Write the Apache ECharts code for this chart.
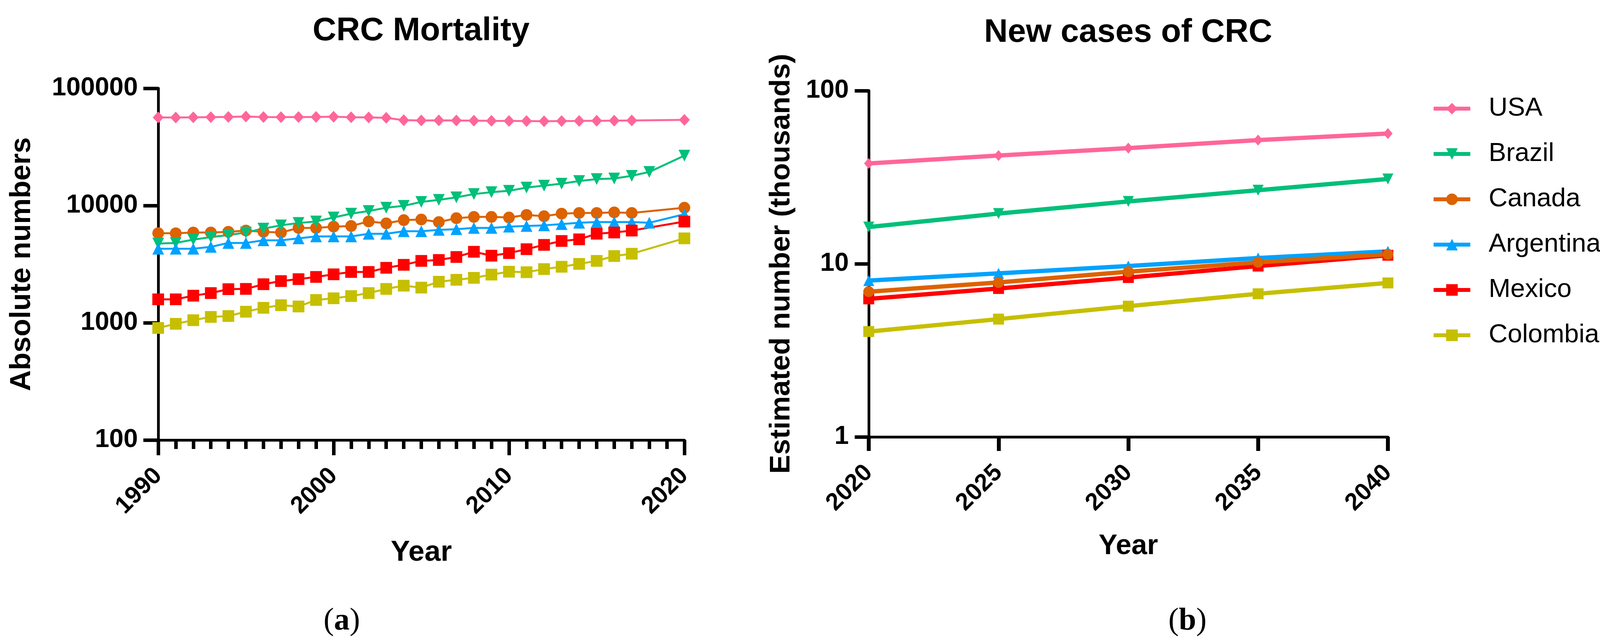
<!DOCTYPE html>
<html><head><meta charset="utf-8">
<script src="https://cdn.jsdelivr.net/npm/echarts/dist/echarts.min.js"></script>
<style>html,body{margin:0;padding:0;background:#fff}#c{width:4135px;height:1648px}</style>
</head><body><div id="c"></div>
<script>
// ---------- data ----------
const countries = ['USA', 'Brazil', 'Canada', 'Argentina', 'Mexico', 'Colombia'];
const mortYears = [1990,1991,1992,1993,1994,1995,1996,1997,1998,1999,2000,2001,2002,2003,2004,2005,2006,2007,2008,2009,2010,2011,2012,2013,2014,2015,2016,2017,2018,2020];
const mortUSA = [56400,56300,56600,56800,57000,57400,56900,56800,56900,57000,57200,56700,56500,56000,53500,53200,53300,53200,53000,52800,52700,52600,52400,52600,52700,52900,53000,53200,null,53800];
const mortBrazil = [4740,4800,5120,5380,5600,5890,6360,6780,7100,7320,7910,8530,8980,9580,9950,10740,11170,11750,12530,13010,13350,14230,14790,15370,16180,16820,17020,17920,19360,26650];
const mortCanada = [5810,5800,5890,5890,5970,6120,5970,5890,6440,6440,6610,6690,7320,7050,7510,7600,7230,7800,8000,8000,7910,8320,8110,8530,8650,8650,8750,8650,null,9580];
const mortArgentina = [4280,4280,4280,4440,4800,4800,5050,5050,5250,5450,5450,5450,5740,5740,6040,6040,6200,6280,6440,6440,6610,6690,6780,6950,7130,7230,7230,7230,7130,8430];
const mortMexico = [1585,1585,1703,1792,1935,1945,2133,2268,2356,2461,2590,2713,2713,2944,3122,3372,3433,3640,4033,3735,3930,4244,4617,4986,5150,5750,5888,6116,null,7300];
const mortColombia = [903,980,1052,1122,1142,1243,1342,1413,1377,1565,1618,1690,1792,1945,2074,1995,2239,2327,2417,2577,2727,2700,2871,3006,3179,3373,3708,3882,null,5250];

const caseYears = [2020, 2025, 2030, 2035, 2040];
const caseUSA = [38.0, 42.2, 46.6, 51.8, 56.5];
const caseBrazil = [16.3, 19.5, 22.9, 26.6, 30.9];
const caseCanada = [6.9, 7.8, 9.0, 10.2, 11.35];
const caseArgentina = [8.0, 8.8, 9.7, 10.8, 11.8];
const caseMexico = [6.27, 7.2, 8.33, 9.7, 11.2];
const caseColombia = [4.06, 4.79, 5.69, 6.71, 7.75];

const mortTicksX = [1990, 2000, 2010, 2020];
const caseTicksX = [2020, 2025, 2030, 2035, 2040];

// ---------- styling ----------
const colors = {USA:'#FF6699', Brazil:'#00BF7A', Canada:'#DD6200', Argentina:'#00A2FF', Mexico:'#FF0000', Colombia:'#C6BF00'};
const symbols = {USA:'diamond', Brazil:'triangle', Canada:'circle', Argentina:'triangle', Mexico:'rect', Colombia:'rect'};
const rot = {Brazil:180};
const FF = 'Liberation Sans, Arial, sans-serif';

const mortData = {USA:mortUSA, Brazil:mortBrazil, Canada:mortCanada, Argentina:mortArgentina, Mexico:mortMexico, Colombia:mortColombia};
const caseData = {USA:caseUSA, Brazil:caseBrazil, Canada:caseCanada, Argentina:caseArgentina, Mexico:caseMexico, Colombia:caseColombia};

function pairs(xs, ys){ const out=[]; xs.forEach((x,i)=>{ if(ys[i]!=null) out.push([x, ys[i]]); }); return out; }

const series = [];
['USA','Canada','Brazil','Argentina','Mexico','Colombia'].forEach(n=>{
  series.push({type:'line', name:n, xAxisIndex:0, yAxisIndex:0, data:pairs(mortYears, mortData[n]),
    symbol:symbols[n], symbolRotate:rot[n]||0, symbolSize: n==='USA'?[28,30]:30,
    lineStyle:{width:5, color:colors[n]}, itemStyle:{color:colors[n]}, z:2});
});
['USA','Brazil','Argentina','Mexico','Canada','Colombia'].forEach(n=>{
  series.push({type:'line', name:n, xAxisIndex:1, yAxisIndex:1, data:pairs(caseYears, caseData[n]),
    symbol:symbols[n], symbolRotate:rot[n]||0, symbolSize: n==='USA'?[24,28]:28,
    lineStyle:{width:11, color:colors[n]}, itemStyle:{color:colors[n]}, z:2});
});

const axisLine = {show:true, onZero:false, lineStyle:{color:'#000', width:7}};
const tickLab = (size)=>({color:'#000', fontFamily:FF, fontWeight:'bold', fontSize:size});

const chart = echarts.init(document.getElementById('c'), null, {renderer:'canvas'});
chart.setOption({
  animation:false,
  backgroundColor:'#fff',
  grid:[
    {left:405, top:226, width:1347, height:900, containLabel:false, outerBoundsMode:'none'},
    {left:2224, top:232, width:1329, height:886, containLabel:false, outerBoundsMode:'none'}
  ],
  xAxis:[
    {type:'value', gridIndex:0, min:1990, max:2020, interval:10,
     axisLine, axisTick:{show:true, length:39, lineStyle:{color:'#000', width:9}},
     minorTick:{show:true, splitNumber:10, length:23, lineStyle:{color:'#000', width:9}},
     splitLine:{show:false}, minorSplitLine:{show:false},
     axisLabel:Object.assign(tickLab(62), {rotate:45, margin:82, formatter:v=>mortTicksX.includes(v)?String(v):''}),
     name:'Year', nameLocation:'middle', nameGap:252,
     nameTextStyle:{color:'#000', fontFamily:FF, fontWeight:'bold', fontSize:74}},
    {type:'value', gridIndex:1, min:2020, max:2040, interval:5,
     axisLine, axisTick:{show:true, length:36, lineStyle:{color:'#000', width:10}},
     splitLine:{show:false},
     axisLabel:Object.assign(tickLab(62), {rotate:45, margin:82, formatter:v=>caseTicksX.includes(v)?String(v):''}),
     name:'Year', nameLocation:'middle', nameGap:244,
     nameTextStyle:{color:'#000', fontFamily:FF, fontWeight:'bold', fontSize:72}}
  ],
  yAxis:[
    {type:'log', gridIndex:0, logBase:10, min:100, max:100000,
     axisLine, axisTick:{show:true, length:38, lineStyle:{color:'#000', width:9}},
     splitLine:{show:false}, minorTick:{show:false},
     axisLabel:Object.assign(tickLab(66), {margin:52, formatter:v=>String(Math.round(v))}),
     name:'Absolute numbers', nameLocation:'middle', nameGap:311,
     nameTextStyle:{color:'#000', fontFamily:FF, fontWeight:'bold', fontSize:74}},
    {type:'log', gridIndex:1, logBase:10, min:1, max:100,
     axisLine, axisTick:{show:true, length:36, lineStyle:{color:'#000', width:9}},
     splitLine:{show:false}, minorTick:{show:false},
     axisLabel:Object.assign(tickLab(66), {margin:51, formatter:v=>String(Math.round(v))}),
     name:'Estimated number (thousands)', nameLocation:'middle', nameGap:187,
     nameTextStyle:{color:'#000', fontFamily:FF, fontWeight:'bold', fontSize:73}}
  ],
  legend:{
    data:countries, orient:'vertical', left:3665, top:244, padding:0,
    itemWidth:94, itemHeight:37, itemGap:48, selectedMode:false,
    lineStyle:{width:10},
    textStyle:{color:'#000', fontFamily:FF, fontSize:67, lineHeight:68, padding:[0,0,0,42]}
  },
  graphic:[
    {type:'text', x:1078, y:80, style:{text:'CRC Mortality', x:0, y:0, fill:'#000', font:'bold 84px '+FF, textAlign:'center', textVerticalAlign:'middle'}},
    {type:'text', x:2888, y:84, style:{text:'New cases of CRC', x:0, y:0, fill:'#000', font:'bold 84px '+FF, textAlign:'center', textVerticalAlign:'middle'}},
    {type:'text', x:875, y:1590, style:{text:'({b|a})', fill:'#000', font:'80px Liberation Serif, serif', textAlign:'center', textVerticalAlign:'middle', rich:{b:{fontWeight:'bold', fontSize:80, fontFamily:'Liberation Serif, serif', fill:'#000'}}}},
    {type:'text', x:3040, y:1590, style:{text:'({b|b})', fill:'#000', font:'80px Liberation Serif, serif', textAlign:'center', textVerticalAlign:'middle', rich:{b:{fontWeight:'bold', fontSize:80, fontFamily:'Liberation Serif, serif', fill:'#000'}}}}
  ],
  series
});
</script>
</body></html>
